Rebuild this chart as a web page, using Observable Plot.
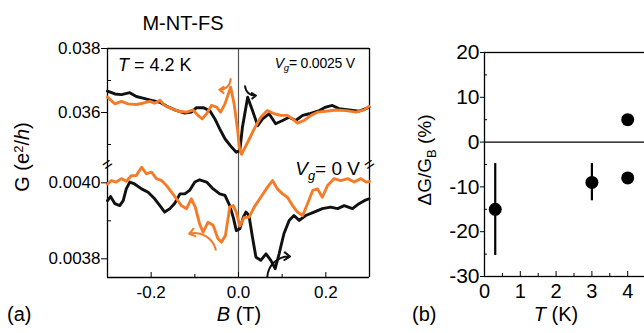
<!DOCTYPE html>
<html><head><meta charset="utf-8">
<script src="https://cdn.jsdelivr.net/npm/d3@7"></script>
<script src="https://cdn.jsdelivr.net/npm/@observablehq/plot@0.6"></script>
<style>
html,body{margin:0;padding:0;background:#fff;overflow:hidden;}
#chart{position:relative;width:644px;height:333px;overflow:hidden;font-family:"Liberation Sans",Arial,Helvetica,sans-serif;color:#000;}
#chart svg{position:absolute;overflow:visible;background:transparent;max-width:none;}
.lbl{position:absolute;white-space:nowrap;line-height:1;}
.lbl sub{font-size:0.68em;vertical-align:baseline;position:relative;top:0.35em;}
.lbl sup{font-size:0.65em;vertical-align:baseline;position:relative;top:-0.5em;}
.rot{transform:translate(-50%,-50%) rotate(-90deg);}
</style></head>
<body><div id="chart"></div>
<script>
// ---------- Panel (a): magnetoconductance, upper segment (Vg = 0.0025 V) ----------
const upperBlackB = [-0.300,-0.283,-0.268,-0.249,-0.234,-0.219,-0.199,-0.180,-0.165,-0.146,-0.123,-0.108,-0.096,-0.081,-0.066,-0.054,-0.043,-0.031,-0.016,-0.005,0.003,0.009,0.021,0.032,0.044,0.055,0.070,0.085,0.101,0.116,0.131,0.147,0.162,0.185,0.200,0.215,0.230,0.253,0.276,0.292,0.299];
const upperBlackG = [0.03667,0.03658,0.03656,0.03662,0.03650,0.03645,0.03638,0.03632,0.03620,0.03608,0.03598,0.03601,0.03615,0.03615,0.03606,0.03580,0.03549,0.03518,0.03492,0.03476,0.03481,0.03554,0.03648,0.03606,0.03559,0.03580,0.03596,0.03565,0.03575,0.03585,0.03575,0.03591,0.03596,0.03606,0.03617,0.03622,0.03612,0.03608,0.03604,0.03612,0.03617];
const upperOrangeB = [-0.300,-0.283,-0.268,-0.253,-0.234,-0.219,-0.203,-0.192,-0.180,-0.169,-0.153,-0.138,-0.119,-0.104,-0.093,-0.083,-0.073,-0.062,-0.050,-0.041,-0.031,-0.018,-0.010,-0.002,0.002,0.007,0.021,0.036,0.051,0.066,0.082,0.097,0.112,0.124,0.135,0.150,0.166,0.181,0.200,0.223,0.246,0.269,0.288,0.299];
const upperOrangeG = [0.03648,0.03627,0.03635,0.03627,0.03625,0.03629,0.03635,0.03629,0.03638,0.03622,0.03612,0.03604,0.03601,0.03608,0.03591,0.03580,0.03596,0.03622,0.03617,0.03601,0.03627,0.03679,0.03627,0.03544,0.03490,0.03469,0.03507,0.03549,0.03585,0.03606,0.03596,0.03591,0.03591,0.03580,0.03567,0.03575,0.03591,0.03601,0.03604,0.03608,0.03606,0.03601,0.03608,0.03619];

// ---------- Panel (a): lower segment (Vg = 0 V) ----------
const lowerBlackB = [-0.300,-0.293,-0.283,-0.272,-0.264,-0.257,-0.249,-0.238,-0.222,-0.207,-0.192,-0.180,-0.169,-0.157,-0.146,-0.134,-0.123,-0.112,-0.100,-0.089,-0.073,-0.058,-0.043,-0.031,-0.020,-0.012,-0.005,0.003,0.011,0.017,0.024,0.032,0.040,0.051,0.063,0.074,0.084,0.093,0.104,0.116,0.127,0.139,0.154,0.173,0.192,0.211,0.227,0.242,0.261,0.276,0.288,0.299];
const lowerBlackG = [0.003953,0.003964,0.003945,0.003940,0.003953,0.003984,0.004002,0.003997,0.003984,0.003975,0.003958,0.003940,0.003923,0.003932,0.003946,0.003971,0.003971,0.003980,0.004002,0.004008,0.004002,0.003984,0.003971,0.003967,0.003940,0.003909,0.003874,0.003879,0.003909,0.003923,0.003914,0.003857,0.003804,0.003796,0.003813,0.003796,0.003774,0.003813,0.003866,0.003901,0.003914,0.003901,0.003914,0.003923,0.003932,0.003936,0.003932,0.003940,0.003932,0.003945,0.003953,0.003958];
const lowerOrangeB = [-0.300,-0.291,-0.280,-0.268,-0.257,-0.245,-0.234,-0.222,-0.211,-0.199,-0.188,-0.176,-0.165,-0.153,-0.142,-0.131,-0.119,-0.108,-0.099,-0.089,-0.081,-0.070,-0.058,-0.047,-0.039,-0.030,-0.020,-0.012,-0.005,0.003,0.013,0.024,0.036,0.051,0.066,0.078,0.089,0.101,0.112,0.124,0.135,0.147,0.158,0.170,0.181,0.192,0.204,0.219,0.234,0.250,0.265,0.280,0.292,0.300];
const lowerOrangeG = [0.003997,0.004006,0.004002,0.004011,0.004004,0.004019,0.004019,0.004041,0.004024,0.004028,0.004011,0.004006,0.003993,0.003975,0.003958,0.003940,0.003932,0.003958,0.003936,0.003892,0.003870,0.003896,0.003888,0.003853,0.003844,0.003861,0.003936,0.003940,0.003923,0.003886,0.003909,0.003909,0.003936,0.003962,0.003988,0.004006,0.003984,0.003971,0.003962,0.003940,0.003923,0.003914,0.003945,0.003980,0.003984,0.003962,0.003993,0.004011,0.004006,0.004011,0.004002,0.004011,0.004002,0.004004];

// sweep-direction arrows (data units): [orange, black]
const upperArrowFromB = [-0.018, 0.015], upperArrowFromG = [0.03705, 0.03682];
const upperArrowToB   = [-0.044, 0.040], upperArrowToG   = [0.03671, 0.03653];
const lowerArrowFromB = [-0.052, 0.066], lowerArrowFromG = [0.003824, 0.003753];
const lowerArrowToB   = [-0.113, 0.118], lowerArrowToG   = [0.003866, 0.003806];

// axes of panel (a)
const bDomain = [-0.3, 0.3];
const upperGDomain = [0.034375, 0.038];
const lowerGDomain = [0.0037508, 0.0040482];
const bMajorTicks = [-0.2, 0, 0.2], bMinorTicks = [-0.1, 0.1];
const upperMajorTicks = [0.036, 0.038], upperMinorTicks = [0.035, 0.037];
const lowerMajorTicks = [0.0038, 0.0040], lowerMinorTicks = [0.0039];

// ---------- Panel (b): ΔG/G_B vs T ----------
const pointT = [0.3, 3, 4, 4];
const pointDG = [-15, -9, 5, -8];
const errT = [0.3, 3];
const errLo = [-25.3, -13.1];
const errHi = [-4.8, -4.8];
const tDomain = [0, 5], dgDomain = [-30, 20];
const tLabelTicks = [0, 1, 2, 3, 4];
const tMajorTicks = [0, 1, 2, 3, 4, 5], tMinorTicks = [0.5, 1.5, 2.5, 3.5, 4.5];
const dgMajorTicks = [-30, -20, -10, 0, 10, 20], dgMinorTicks = [-25, -15, -5, 5, 15];

// ---------- drawing ----------
const FONT = '"Liberation Sans", Arial, Helvetica, sans-serif';
const BLACK = "#111", ORANGE = "#f47b28";
const LW = 2.9;
const rows = (B, G) => B.map((b, i) => ({B: b, G: G[i]}));
const arrowRows = (b1, g1, b2, g2) => b1.map((b, i) => ({x1: b, y1: g1[i], x2: b2[i], y2: g2[i]}));
const upArrows = arrowRows(upperArrowFromB, upperArrowFromG, upperArrowToB, upperArrowToG);
const loArrows = arrowRows(lowerArrowFromB, lowerArrowFromG, lowerArrowToB, lowerArrowToG);
const arrowOpts = {x1: "x1", y1: "y1", x2: "x2", y2: "y2", strokeWidth: 2, headLength: 5, headAngle: 70};
const lineOpts = {x: "B", y: "G", strokeWidth: LW, strokeLinejoin: "round", strokeLinecap: "round"};
const baseStyle = {fontFamily: FONT, color: "#000", background: "transparent", overflow: "visible"};
const breakOpts = {rotate: -35, fontSize: 17, fill: "#000", textAnchor: "middle", lineAnchor: "middle"};
const chart = document.getElementById("chart");

const topPlot = Plot.plot({
  width: 380, height: 164, marginLeft: 107, marginRight: 11, marginTop: 48, marginBottom: 0,
  style: baseStyle,
  x: {domain: bDomain, axis: null},
  y: {domain: upperGDomain, label: null},
  marks: [
    Plot.ruleX([0], {stroke: "#555", strokeWidth: 1.2}),
    Plot.ruleX(bDomain, {stroke: "#000", strokeWidth: 1.3}),
    Plot.ruleY([upperGDomain[1]], {stroke: "#000", strokeWidth: 1.3}),
    Plot.line(rows(upperBlackB, upperBlackG), {...lineOpts, stroke: BLACK}),
    Plot.line(rows(upperOrangeB, upperOrangeG), {...lineOpts, stroke: ORANGE}),
    Plot.arrow([upArrows[0]], {...arrowOpts, stroke: ORANGE, bend: 45}),
    Plot.arrow([upArrows[1]], {...arrowOpts, stroke: BLACK, bend: -45}),
    Plot.axisY(upperMajorTicks, {tickSize: 6, tickPadding: 1, fontSize: 17, tickFormat: d => d.toFixed(3), label: null}),
    Plot.axisY(upperMinorTicks, {tickSize: 4, dx: 4, text: null, label: null})
  ]
});
topPlot.style.left = "0px"; topPlot.style.top = "0px";
chart.appendChild(topPlot);

const lowPlot = Plot.plot({
  width: 380, height: 169, marginLeft: 107, marginRight: 11, marginTop: 0, marginBottom: 56,
  style: baseStyle,
  x: {domain: bDomain, label: null},
  y: {domain: lowerGDomain, label: null},
  marks: [
    Plot.ruleX([0], {stroke: "#555", strokeWidth: 1.2}),
    Plot.ruleX(bDomain, {stroke: "#000", strokeWidth: 1.3}),
    Plot.ruleY([lowerGDomain[0]], {stroke: "#000", strokeWidth: 1.3}),
    Plot.line(rows(lowerBlackB, lowerBlackG), {...lineOpts, stroke: BLACK}),
    Plot.line(rows(lowerOrangeB, lowerOrangeG), {...lineOpts, stroke: ORANGE}),
    Plot.arrow([loArrows[0]], {...arrowOpts, stroke: ORANGE, bend: -45}),
    Plot.arrow([loArrows[1]], {...arrowOpts, stroke: BLACK, bend: 45}),
    Plot.axisY(lowerMajorTicks, {tickSize: 6, tickPadding: 1, fontSize: 17, tickFormat: d => d.toFixed(4), label: null}),
    Plot.axisY(lowerMinorTicks, {tickSize: 4, dx: 4, text: null, label: null}),
    Plot.axisX(bMajorTicks, {tickSize: 0, tickPadding: 8, fontSize: 17, tickFormat: d => d.toFixed(1), label: null}),
    Plot.axisX(bMajorTicks, {tickSize: 5, dy: -5, text: null, label: null}),
    Plot.axisX(bMinorTicks, {tickSize: 3, dy: -3, text: null, label: null}),
    Plot.text(["="], {...breakOpts, frameAnchor: "top-left"}),
    Plot.text(["="], {...breakOpts, frameAnchor: "top-right"})
  ]
});
lowPlot.style.left = "0px"; lowPlot.style.top = "164px";
chart.appendChild(lowPlot);

const bPlot = Plot.plot({
  width: 300, height: 333, marginLeft: 104, marginRight: 17, marginTop: 52, marginBottom: 57,
  style: baseStyle,
  x: {domain: tDomain, label: null},
  y: {domain: dgDomain, label: null},
  marks: [
    Plot.frame({stroke: "#000", strokeWidth: 1.3}),
    Plot.ruleY([0], {stroke: "#000", strokeWidth: 1.2}),
    Plot.ruleX(errT.map((t, i) => ({T: t, lo: errLo[i], hi: errHi[i]})), {x: "T", y1: "lo", y2: "hi", stroke: "#000", strokeWidth: 2.2}),
    Plot.dot(pointT.map((t, i) => ({T: t, v: pointDG[i]})), {x: "T", y: "v", r: 6.5, fill: "#000", stroke: "none"}),
    Plot.axisY(dgMajorTicks, {tickSize: 4, tickPadding: 1, fontSize: 21, tickFormat: d => String(d), label: null}),
    Plot.axisY(dgMinorTicks, {tickSize: 3, dx: 3, text: null, label: null}),
    Plot.axisX(tLabelTicks, {tickSize: 0, tickPadding: 7, fontSize: 20, tickFormat: d => String(d), label: null}),
    Plot.axisX(tMajorTicks, {tickSize: 5, dy: -5, text: null, label: null}),
    Plot.axisX(tMinorTicks, {tickSize: 3, dy: -3, text: null, label: null})
  ]
});
bPlot.style.left = "380px"; bPlot.style.top = "0px";
chart.appendChild(bPlot);

// ---------- text labels ----------
const labels = [
  {html: "M-NT-FS", css: "left:183px;top:13px;font-size:20px;transform:translateX(-50%);"},
  {html: "<i>T</i> = 4.2 K", css: "left:118px;top:56px;font-size:18px;"},
  {html: "<i>V<sub>g</sub></i>= 0.0025 V", css: "right:289px;top:56px;font-size:14px;letter-spacing:-0.2px;"},
  {html: "<i>V<sub>g</sub></i>= 0 V", css: "right:284px;top:159px;font-size:19px;"},
  {html: "G (e<sup>2</sup>/<i>h</i>)", css: "left:22px;top:157px;font-size:20px;", rot: true},
  {html: "(a)", css: "left:7px;top:304px;font-size:20px;"},
  {html: "<i>B</i> (T)", css: "left:239px;top:304px;font-size:20px;transform:translateX(-50%);"},
  {html: "ΔG/G<sub>B</sub> (%)", css: "left:424px;top:160px;font-size:19px;", rot: true},
  {html: "(b)", css: "left:412px;top:304px;font-size:20px;"},
  {html: "<i>T</i> (K)", css: "left:556px;top:304px;font-size:20px;transform:translateX(-50%);"}
];
for (const l of labels) {
  const d = document.createElement("div");
  d.className = "lbl" + (l.rot ? " rot" : "");
  d.style.cssText = l.css;
  d.innerHTML = l.html;
  chart.appendChild(d);
}
</script>
</body></html>
